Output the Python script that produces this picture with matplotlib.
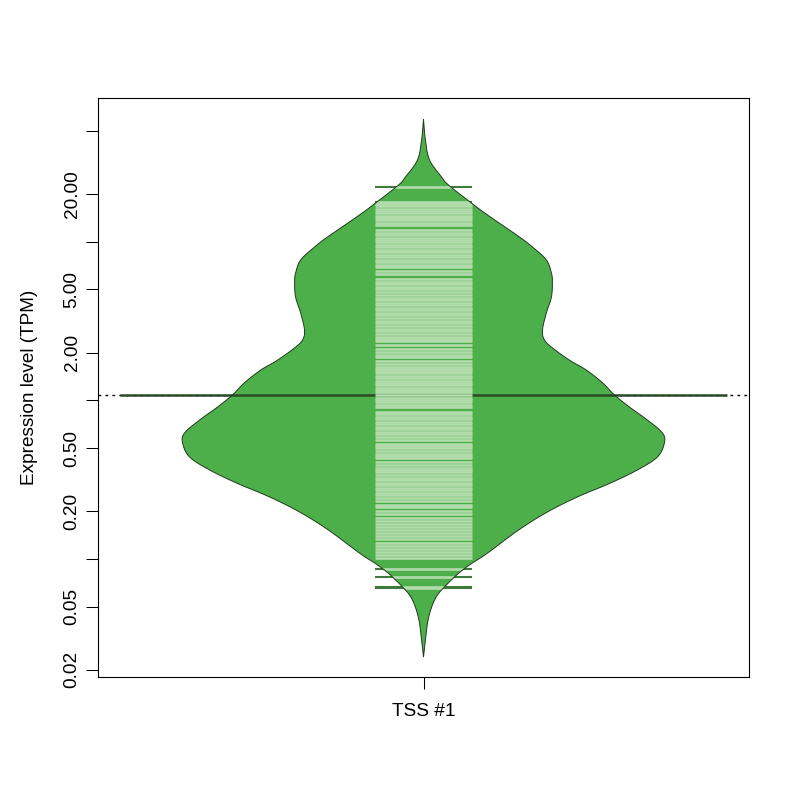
import matplotlib
matplotlib.use("Agg")
import matplotlib.pyplot as plt
from matplotlib.patches import Polygon
import numpy as np

plt.rcParams['font.family'] = ['Liberation Sans', 'DejaVu Sans']

grupos = ['TSS #1']

# Contorno del bean: nivel de expresion (TPM) y densidad relativa
bean_nivel = [59.0, 43.7, 32.7, 25.5, 22.7, 17.5, 14.7, 10.7, 9.25, 7.66,
              6.34, 5.56, 4.47, 3.55, 2.77, 2.40, 2.14, 1.79, 1.55, 1.29,
              1.08, 0.907, 0.752, 0.622, 0.538, 0.439, 0.364, 0.301, 0.246, 0.198,
              0.152, 0.109, 0.0944, 0.0852, 0.0771, 0.0667, 0.0593, 0.0513, 0.0413, 0.0309,
              0.0241]
bean_densidad = [0.0, 0.008, 0.025, 0.075, 0.104, 0.199, 0.266, 0.398, 0.452, 0.510,
                 0.531, 0.535, 0.531, 0.510, 0.494, 0.502, 0.535, 0.606, 0.676, 0.743,
                 0.793, 0.855, 0.929, 0.992, 1.0, 0.971, 0.888, 0.776, 0.639, 0.515,
                 0.394, 0.266, 0.203, 0.162, 0.129, 0.087, 0.058, 0.037, 0.019, 0.008,
                 0.0]

# Observaciones individuales (beanlines)
observaciones = [22.0,
                 17.77, 17.25, 16.64, 16.05, 15.59, 15.04, 14.50, 14.09, 13.58, 13.10, 12.63,
                 11.75, 11.33, 10.93, 10.54, 10.23, 9.87, 9.52, 9.18, 8.85, 8.54, 8.23, 8.00,
                 7.71, 7.44, 7.17, 6.92,
                 6.48, 6.25,
                 5.77, 5.57, 5.37, 5.17, 4.99, 4.81,
                 4.58, 4.41, 4.26, 4.10, 3.96, 3.82, 3.68, 3.55, 3.45,
                 3.28, 3.16, 3.05, 2.94, 2.83, 2.73,
                 2.60, 2.51, 2.42, 2.35, 2.23,
                 2.09, 2.02, 1.94, 1.87,
                 1.76, 1.69, 1.63, 1.58, 1.53, 1.48, 1.42, 1.38, 1.33, 1.29, 1.24, 1.20,
                 1.16, 1.12,
                 1.08, 1.04, 1.00, 0.969, 0.934, 0.901,
                 0.844, 0.814, 0.785, 0.757, 0.730, 0.704, 0.679, 0.655, 0.631, 0.609,
                 0.587, 0.566,
                 0.534, 0.515, 0.497, 0.479, 0.462, 0.446, 0.430, 0.409,
                 0.391, 0.377, 0.364, 0.351, 0.338, 0.326, 0.315, 0.303, 0.293, 0.282,
                 0.272, 0.262,
                 0.253, 0.242, 0.232, 0.220, 0.213, 0.201, 0.191,
                 0.180, 0.174, 0.166, 0.159, 0.152, 0.145, 0.140, 0.134, 0.126, 0.121,
                 0.116, 0.111, 0.106, 0.101,
                 0.0865, 0.0770, 0.0666, 0.0652]

media_bean = 1.075

y_ticks = [0.02, 0.05, 0.1, 0.2, 0.5, 1, 2, 5, 10, 20, 50]
y_etiquetas = ['0.02', '0.05', '', '0.20', '0.50', '', '2.00', '5.00', '', '20.00', '']


# Suavizado Catmull-Rom del contorno (solo para dibujar)
def suavizar(px, py, n=12):
    P = np.column_stack([px, py])
    P = np.vstack([P[0], P, P[-1]])
    xs, ys = [], []
    t = np.linspace(0, 1, n, endpoint=False)
    for i in range(1, len(P) - 2):
        p0, p1, p2, p3 = P[i - 1], P[i], P[i + 1], P[i + 2]
        for tt in t:
            q = 0.5 * ((2 * p1) + (-p0 + p2) * tt +
                       (2 * p0 - 5 * p1 + 4 * p2 - p3) * tt ** 2 +
                       (-p0 + 3 * p1 - 3 * p2 + p3) * tt ** 3)
            xs.append(q[0])
            ys.append(q[1])
    xs.append(P[-2][0])
    ys.append(P[-2][1])
    return np.array(xs), np.clip(np.array(ys), 0, None)


fig = plt.figure(figsize=(8, 8), dpi=100)
ax = fig.add_axes([98 / 800, 123 / 800, 651 / 800, 579 / 800])
ax.set_yscale('log')
ax.set_xlim(0.5, 1.5)
ax.set_ylim(0.01805, 80.3)

pos = 1
ancho = 0.37        # media anchura maxima del bean
ancho_lineas = 0.075
ancho_media = 0.466

ly, dens = suavizar(np.log10(bean_nivel), bean_densidad)
yy = 10 ** ly
xs = np.concatenate([pos - dens * ancho, (pos + dens * ancho)[::-1]])
ys = np.concatenate([yy, yy[::-1]])
contorno = np.column_stack([xs, ys])

# lineas fuera del bean (oscuras)
ax.hlines(observaciones, pos - ancho_lineas, pos + ancho_lineas,
          colors='#3f7a3c', lw=1.5, zorder=1)

relleno = Polygon(contorno, closed=True, facecolor='#4DAF4A', edgecolor='none', zorder=2)
ax.add_patch(relleno)

# linea media del bean
ax.hlines(media_bean, pos - ancho_media, pos + ancho_media,
          colors='#2b4a29', lw=1.8, zorder=3)

# lineas dentro del bean (claras)
lineas = ax.hlines(observaciones, pos - ancho_lineas, pos + ancho_lineas,
                   colors='#b2dcab', lw=1.9, zorder=4)
lineas.set_clip_path(relleno)

borde = Polygon(contorno, closed=True, fill=False, edgecolor='#1f3b1d', lw=0.7, zorder=5)
ax.add_patch(borde)

# linea general punteada
ax.axhline(media_bean, color='black', lw=1, ls=(0, (2, 3)), zorder=0.5)

ax.set_xticks([pos])
ax.set_xticklabels(grupos, fontsize=13.7)
ax.set_yticks(y_ticks)
ax.set_yticklabels(y_etiquetas, fontsize=13.7, rotation=90, va='center')
ax.minorticks_off()
ax.tick_params(axis='both', length=8.6, width=0.75, color='black')
ax.tick_params(axis='x', pad=10)
ax.tick_params(axis='y', pad=4)
for s in ax.spines.values():
    s.set_linewidth(0.8)

fig.text(30 / 800, 1 - 387.5 / 800, 'Expression level (TPM)', rotation=90,
         ha='center', va='center', fontsize=13.7)

plt.savefig('out.png', dpi=100)
